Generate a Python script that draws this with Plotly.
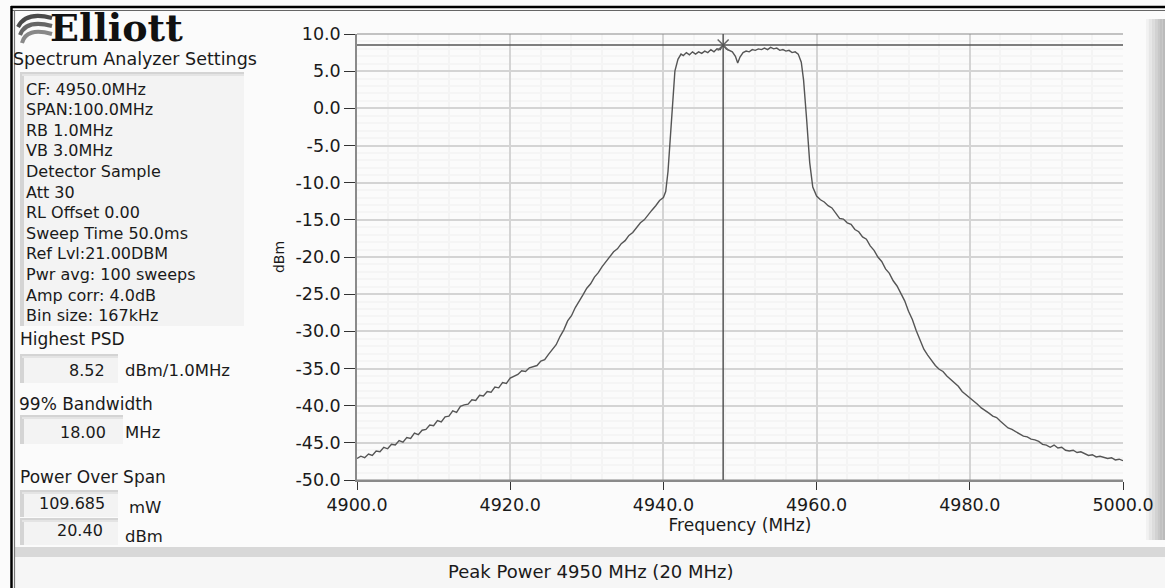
import plotly.graph_objects as go

# ---------------- data ----------------
freq_mhz = [
    4900.0, 4900.5, 4901.0, 4901.5, 4902.0, 4902.5, 4903.0, 4903.5, 4904.0, 4904.5,
    4905.0, 4905.5, 4906.0, 4906.5, 4907.0, 4907.5, 4908.0, 4908.5, 4909.0, 4909.5,
    4910.0, 4910.5, 4911.0, 4911.5, 4912.0, 4912.5, 4913.0, 4913.5, 4914.0, 4914.5,
    4915.0, 4915.5, 4916.0, 4916.5, 4917.0, 4917.5, 4918.0, 4918.5, 4919.0, 4919.5,
    4920.0, 4920.5, 4921.0, 4921.5, 4922.0, 4922.5, 4923.0, 4923.5, 4924.0, 4924.5,
    4925.0, 4925.5, 4926.0, 4926.5, 4927.0, 4927.5, 4928.0, 4928.5, 4929.0, 4929.5,
    4930.0, 4930.5, 4931.0, 4931.5, 4932.0, 4932.5, 4933.0, 4933.5, 4934.0, 4934.5,
    4935.0, 4935.5, 4936.0, 4936.5, 4937.0, 4937.5, 4938.0, 4938.5, 4939.0, 4939.5,
    4940.0, 4940.3, 4940.6, 4940.9, 4941.2, 4941.5, 4941.9, 4942.3, 4942.6, 4943.0,
    4943.4, 4943.8, 4944.2, 4944.6, 4945.0, 4945.4, 4945.8, 4946.2, 4946.6, 4947.0,
    4947.4, 4947.8, 4948.2, 4948.6, 4949.0, 4949.4, 4949.7, 4950.0, 4950.4, 4950.8,
    4951.2, 4951.6, 4952.0, 4952.4, 4952.8, 4953.2, 4953.6, 4954.0, 4954.4, 4954.8,
    4955.2, 4955.6, 4956.0, 4956.4, 4956.8, 4957.2, 4957.6, 4958.0, 4958.3, 4958.7,
    4959.1, 4959.5, 4960.0, 4960.5, 4961.0, 4961.5, 4962.0, 4962.5, 4963.0, 4963.5,
    4964.0, 4964.5, 4965.0, 4965.5, 4966.0, 4966.5, 4967.0, 4967.5, 4968.0, 4968.5,
    4969.0, 4969.5, 4970.0, 4970.5, 4971.0, 4971.5, 4972.0, 4972.5, 4973.0, 4973.5,
    4974.0, 4974.5, 4975.0, 4975.5, 4976.0, 4976.5, 4977.0, 4977.5, 4978.0, 4978.5,
    4979.0, 4979.5, 4980.0, 4980.5, 4981.0, 4981.5, 4982.0, 4982.5, 4983.0, 4983.5,
    4984.0, 4984.5, 4985.0, 4985.5, 4986.0, 4986.5, 4987.0, 4987.5, 4988.0, 4988.5,
    4989.0, 4989.5, 4990.0, 4990.5, 4991.0, 4991.5, 4992.0, 4992.5, 4993.0, 4993.5,
    4994.0, 4994.5, 4995.0, 4995.5, 4996.0, 4996.5, 4997.0, 4997.5, 4998.0, 4998.5,
    4999.0, 4999.5, 5000.0,
]
level_dbm = [
    -47.1, -46.8, -47.0, -46.5, -46.7, -46.1, -46.2, -45.6, -45.8, -45.2,
    -45.3, -44.7, -44.9, -44.3, -44.4, -43.7, -43.9, -43.3, -43.2, -42.6,
    -42.7, -42.0, -42.2, -41.5, -41.4, -40.7, -40.9, -40.1, -39.9, -39.8,
    -39.2, -39.3, -38.6, -38.7, -38.1, -38.2, -37.5, -37.6, -36.9, -37.0,
    -36.3, -36.0, -35.8, -35.3, -35.4, -34.9, -34.7, -34.6, -34.0, -33.8,
    -33.1, -32.5, -31.8, -30.7, -29.8, -28.6, -27.9, -26.8, -26.0, -25.1,
    -24.2, -23.6, -22.7, -22.1, -21.3, -20.6, -20.0, -19.3, -18.9, -18.2,
    -17.8, -17.1, -16.7, -16.1, -15.4, -15.0, -14.3, -13.7, -13.1, -12.4,
    -12.0, -11.2, -8.5, -4.0, 1.5, 5.0, 6.6, 7.3, 7.1, 7.5,
    7.2, 7.6, 7.3, 7.6, 7.4, 7.7, 7.5, 7.9, 7.6, 8.0,
    7.9, 8.52, 8.0, 7.8, 7.6, 7.0, 6.1, 6.9, 7.5, 7.7,
    7.6, 7.9, 7.8, 8.0, 7.9, 8.1, 7.9, 8.2, 8.0, 8.1,
    7.8, 7.9, 7.7, 7.8, 7.5, 7.6, 7.3, 6.2, 3.8, -1.5,
    -7.3, -10.6, -11.8, -12.3, -12.6, -13.1, -13.4, -14.1, -14.8, -14.9,
    -15.4, -15.6, -16.3, -16.6, -17.3, -17.6, -18.5, -19.1, -20.0, -20.6,
    -21.6, -22.2, -23.2, -23.9, -25.0, -25.9, -27.3, -28.4, -29.9, -31.2,
    -32.4, -33.2, -33.9, -34.6, -35.1, -35.4, -36.0, -36.5, -37.0, -37.4,
    -38.1, -38.5, -39.0, -39.3, -39.8, -40.3, -40.6, -41.0, -41.4, -41.6,
    -42.1, -42.5, -43.0, -43.2, -43.5, -43.8, -44.1, -44.2, -44.5, -44.6,
    -44.8, -45.2, -45.3, -45.6, -45.3, -45.7, -45.6, -46.0, -46.1, -46.0,
    -46.3, -46.2, -46.5, -46.7, -46.6, -46.9, -46.8, -47.0, -47.1, -47.0,
    -47.3, -47.2, -47.4,
]
peak_freq = 4947.8
highest_psd = 8.52

x_ticks = [4900, 4920, 4940, 4960, 4980, 5000]
y_ticks = [10, 5, 0, -5, -10, -15, -20, -25, -30, -35, -40, -45, -50]

settings_lines = [
    "CF: 4950.0MHz", "SPAN:100.0MHz", "RB 1.0MHz", "VB 3.0MHz", "Detector Sample",
    "Att 30", "RL Offset 0.00", "Sweep Time 50.0ms", "Ref Lvl:21.00DBM",
    "Pwr avg: 100 sweeps", "Amp corr: 4.0dB", "Bin size: 167kHz",
]
psd_value, psd_unit = "8.52", "dBm/1.0MHz"
bw_value, bw_unit = "18.00", "MHz"
pow_mw, pow_dbm = "109.685", "20.40"
footer_text = "Peak Power 4950 MHz (20 MHz)"

# ---------------- layout helpers ----------------
W, H = 1165, 588
L, R, T, B = 357, 1123, 34, 480
PW, PH = R - L, B - T


def px(x):
    return (x - L) / PW


def py(y):
    return (B - y) / PH


FONT = "DejaVu Sans"
TXT = "#1a1a1a"
FS = 16

fig = go.Figure()
fig.add_trace(go.Scatter(x=freq_mhz, y=level_dbm, mode="lines",
                         line=dict(color="#555555", width=1.4),
                         hoverinfo="skip", showlegend=False))
fig.add_trace(go.Scatter(x=[peak_freq], y=[highest_psd], mode="markers",
                         marker=dict(symbol="x-thin", size=11,
                                     line=dict(color="#666666", width=1.5)),
                         hoverinfo="skip", showlegend=False))

shapes = []
ann = []


def rect(x0, y0, x1, y1, fill, layer="below"):
    shapes.append(dict(type="rect", xref="paper", yref="paper",
                       x0=px(x0), x1=px(x1), y0=py(y1), y1=py(y0),
                       fillcolor=fill, line=dict(color=fill, width=0),
                       layer=layer))


def hline(x0, x1, y, color, w, layer="above"):
    shapes.append(dict(type="line", xref="paper", yref="paper",
                       x0=px(x0), x1=px(x1), y0=py(y), y1=py(y),
                       line=dict(color=color, width=w), layer=layer))


def vline(x, y0, y1, color, w, layer="above"):
    shapes.append(dict(type="line", xref="paper", yref="paper",
                       x0=px(x), x1=px(x), y0=py(y0), y1=py(y1),
                       line=dict(color=color, width=w), layer=layer))


def text(x, y, s, size=FS, xanchor="left", family=FONT, color=TXT, bold=False):
    ann.append(dict(xref="paper", yref="paper", x=px(x), y=py(y),
                    text=("<b>%s</b>" % s) if bold else s,
                    showarrow=False, xanchor=xanchor, yanchor="middle",
                    font=dict(family=family, size=size, color=color)))


def inset_box(x0, y0, x1, y1):
    rect(x0, y0, x1, y1, "#f3f3f3")
    rect(x0, y0, x1, y0 + 4, "#d4d4d4")
    rect(x0, y0, x0 + 4, y1, "#d4d4d4")
    rect(x0 + 2, y0 + 2, x1, y0 + 4, "#e4e4e4")


# window frame
rect(0, 0, W, H, "#fbfbfb")
hline(11, W, 7, "#000000", 2.5)
hline(11, W, 10.5, "#666666", 1.2)
vline(11.5, 6, H, "#000000", 2.5)
vline(14.5, 10, H, "#777777", 1.2)
# right-hand gradient strip
for i, c in enumerate(["#f2f2f2", "#e6e6e6", "#dcdcdc", "#d2d2d2", "#c8c8c8", "#c0c0c0", "#bababa"]):
    rect(1146 + i * 2.8, 19, 1148.8 + i * 2.8, 540, c)

# logo
text(48, 28, "Elliott", size=38, family="DejaVu Serif", bold=True, color="#111111")
for k, col in enumerate(["#4a4a4a", "#666666", "#888888"]):
    yy = 17 + k * 8
    shapes.append(dict(type="path", xref="paper", yref="paper",
                       path="M %f %f Q %f %f %f %f" % (px(18 + k * 2), py(yy + 10), px(26), py(yy - 6),
                                                     px(52), py(yy + 1)),
                       line=dict(color=col, width=4), layer="above"))
text(11, 59, "Spectrum Analyzer Settings", size=17.5)

# settings panel
inset_box(20, 72, 244, 326)
for i, s in enumerate(settings_lines):
    text(24, 89 + i * 20.6, s)

# result fields
text(18, 339, "Highest PSD", size=17)
inset_box(20, 354, 118, 383)
text(107, 370, psd_value, xanchor="right")
text(123, 370, psd_unit, size=16.5)

text(17, 404, "99% Bandwidth", size=17)
inset_box(20, 415, 123, 444)
text(108, 432, bw_value, xanchor="right")
text(123, 432, bw_unit, size=16.5)

text(18, 477, "Power Over Span", size=17)
inset_box(20, 490, 118, 517)
text(107, 503, pow_mw, xanchor="right")
text(127, 507, "mW", size=16.5)
inset_box(20, 518, 118, 545)
text(105, 530, pow_dbm, xanchor="right")
text(123, 536, "dBm", size=16.5)

# footer bar
rect(15, 547, W, 557, "#d8d8d8")
rect(15, 557, W, 588, "#f6f6f6")
text(591, 571, footer_text, size=18, xanchor="center")

# plot frame lines
hline(L, R, T, "#8a8a8a", 1.2)
hline(L, R, B, "#8a8a8a", 1.2)

fig.update_layout(
    width=W, height=H,
    margin=dict(l=L, r=W - R, t=T, b=H - B, pad=0),
    paper_bgcolor="#fbfbfb", plot_bgcolor="#fcfcfc",
    shapes=shapes, annotations=ann,
    font=dict(family=FONT, size=17, color=TXT),
    showlegend=False,
)
fig.add_hline(y=highest_psd, line=dict(color="#555555", width=1.5))
fig.add_vline(x=peak_freq, line=dict(color="#555555", width=1.5))

fig.update_xaxes(range=[4900, 5000], tickvals=x_ticks,
                 ticktext=["%.1f" % v for v in x_ticks],
                 showgrid=True, gridcolor="#d4d4d4", gridwidth=1.5,
                 minor=dict(dtick=4, showgrid=True, gridcolor="#f4f4f4"),
                 ticks="outside", ticklen=8, tickcolor="#333333",
                 showline=True, linecolor="#8a8a8a", linewidth=1.5,
                 zeroline=False,
                 title=dict(text="Frequency (MHz)", standoff=2, font=dict(size=17)),
                 tickfont=dict(size=17.5))
fig.update_yaxes(range=[-50, 10], tickvals=y_ticks,
                 ticktext=["%.1f" % v for v in y_ticks],
                 showgrid=True, gridcolor="#d4d4d4", gridwidth=1.5,
                 minor=dict(dtick=1, showgrid=True, gridcolor="#f5f5f5"),
                 ticks="outside", ticklen=11, tickcolor="#333333",
                 showline=True, linecolor="#8a8a8a", linewidth=1.5,
                 zeroline=False,
                 title=dict(text="dBm", standoff=8, font=dict(size=14)),
                 tickfont=dict(size=17.5))

fig.write_html("out.html")
